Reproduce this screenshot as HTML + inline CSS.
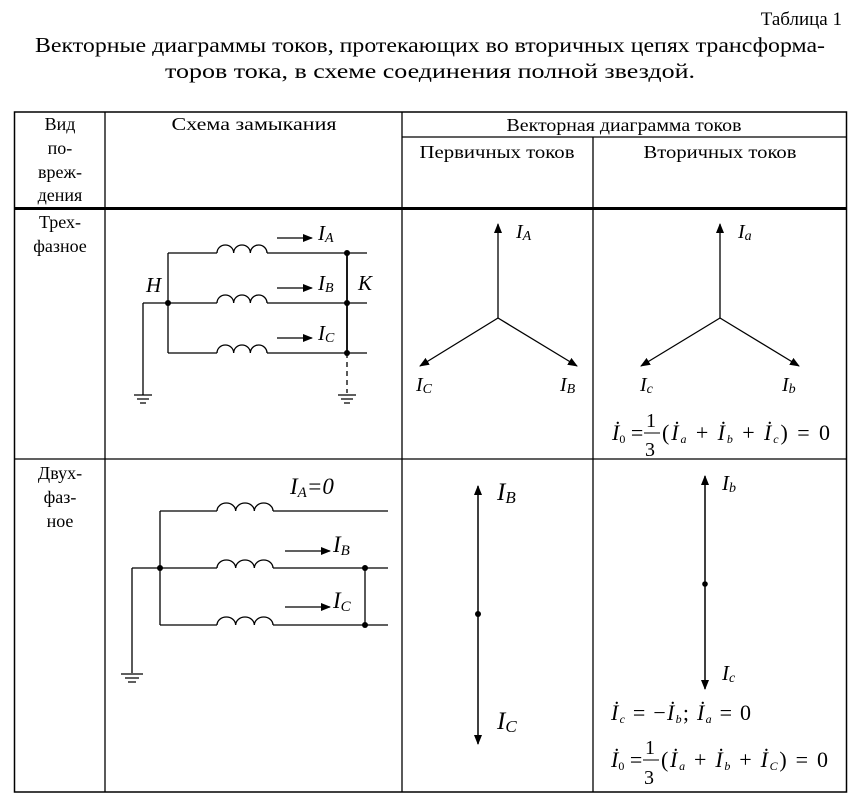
<!DOCTYPE html>
<html><head><meta charset="utf-8"><style>
html,body{margin:0;padding:0;background:#fff}
svg{display:block}
text{font-family:"Liberation Serif",serif;fill:#000}
.i{font-style:italic}
</style></head><body>
<svg width="853" height="796" viewBox="0 0 853 796">
<defs>
<marker id="ar" markerWidth="10" markerHeight="8" refX="9" refY="4" orient="auto" markerUnits="userSpaceOnUse">
<path d="M0,0 L10,4 L0,8 z" fill="#000"/></marker>
</defs>
<text x="842" y="25" font-size="19" text-anchor="end">Таблица 1</text>
<text x="430" y="52" font-size="21" text-anchor="middle" textLength="790" lengthAdjust="spacingAndGlyphs">Векторные диаграммы токов, протекающих во вторичных цепях трансформа-</text>
<text x="430" y="78" font-size="21" text-anchor="middle" textLength="530" lengthAdjust="spacingAndGlyphs">торов тока, в схеме соединения полной звездой.</text>

<g stroke="#000" fill="none">
<rect x="14.5" y="112" width="832" height="680" stroke-width="1.5"/>
<line x1="105" y1="112" x2="105" y2="792" stroke-width="1.3"/>
<line x1="402" y1="112" x2="402" y2="792" stroke-width="1.3"/>
<line x1="593" y1="137" x2="593" y2="792" stroke-width="1.3"/>
<line x1="402" y1="137" x2="846" y2="137" stroke-width="1.3"/>
<line x1="14" y1="208.5" x2="846" y2="208.5" stroke-width="3"/>
<line x1="14" y1="459" x2="846" y2="459" stroke-width="1.3"/>
</g>
<g font-size="18" text-anchor="middle">
<text x="60" y="130">Вид</text>
<text x="60" y="154">по-</text>
<text x="60" y="178">вреж-</text>
<text x="60" y="201">дения</text>
<text x="254" y="130" textLength="165" lengthAdjust="spacingAndGlyphs">Схема замыкания</text>
<text x="624" y="131" textLength="235" lengthAdjust="spacingAndGlyphs">Векторная диаграмма токов</text>
<text x="497" y="158" textLength="155" lengthAdjust="spacingAndGlyphs">Первичных токов</text>
<text x="720" y="158" textLength="153" lengthAdjust="spacingAndGlyphs">Вторичных токов</text>
<text x="60" y="228">Трех-</text>
<text x="60" y="252">фазное</text>
<text x="60" y="479">Двух-</text>
<text x="60" y="503">фаз-</text>
<text x="60" y="527">ное</text>
</g>

<g stroke="#000" stroke-width="1.3" fill="none">
<path d="M168,253 H217 M267,253 H367"/>
<path d="M168,303 H217 M267,303 H367"/>
<path d="M168,353 H217 M267,353 H367"/>
<path d="M217,253 a8.33,8 0 0 1 16.67,0 a8.33,8 0 0 1 16.67,0 a8.33,8 0 0 1 16.67,0"/>
<path d="M217,303 a8.33,8 0 0 1 16.67,0 a8.33,8 0 0 1 16.67,0 a8.33,8 0 0 1 16.67,0"/>
<path d="M217,353 a8.33,8 0 0 1 16.67,0 a8.33,8 0 0 1 16.67,0 a8.33,8 0 0 1 16.67,0"/>
<path d="M168,253 V353"/>
<path d="M347,253 V353" stroke-width="1.8"/>
<path d="M347,353 V393" stroke-dasharray="5,4"/>
<path d="M143,303 H168 M143,303 V395"/>
<path d="M134,395 H152 M137,399 H149 M140,403 H146"/>
<path d="M338,395 H356 M341,399 H353 M344,403 H350"/>
<path d="M277,238 H312" marker-end="url(#ar)"/>
<path d="M277,288 H312" marker-end="url(#ar)"/>
<path d="M277,338 H312" marker-end="url(#ar)"/>
</g>
<g fill="#000"><circle cx="168" cy="303" r="3"/><circle cx="347" cy="253" r="3"/><circle cx="347" cy="303" r="3"/><circle cx="347" cy="353" r="3"/></g>
<g font-size="21">
<text x="318" y="240" class="i">I<tspan font-size="14" dy="2">A</tspan></text>
<text x="318" y="290" class="i">I<tspan font-size="14" dy="2">B</tspan></text>
<text x="318" y="340" class="i">I<tspan font-size="14" dy="2">C</tspan></text>
<text x="146" y="292" class="i">H</text>
<text x="358" y="290" class="i">K</text>
</g>

<g stroke="#000" stroke-width="1.3">
<line x1="498" y1="318" x2="498" y2="224" marker-end="url(#ar)"/>
<line x1="498" y1="318" x2="420" y2="366" marker-end="url(#ar)"/>
<line x1="498" y1="318" x2="577" y2="366" marker-end="url(#ar)"/>
<line x1="720" y1="318" x2="720" y2="224" marker-end="url(#ar)"/>
<line x1="720" y1="318" x2="641" y2="366" marker-end="url(#ar)"/>
<line x1="720" y1="318" x2="799" y2="366" marker-end="url(#ar)"/>
</g>
<g font-size="20">
<text x="516" y="238" class="i">I<tspan font-size="14" dy="2">A</tspan></text>
<text x="416" y="391" class="i">I<tspan font-size="14" dy="2">C</tspan></text>
<text x="560" y="391" class="i">I<tspan font-size="14" dy="2">B</tspan></text>
<text x="738" y="238" class="i">I<tspan font-size="14" dy="2">a</tspan></text>
<text x="640" y="391" class="i">I<tspan font-size="14" dy="2">c</tspan></text>
<text x="782" y="391" class="i">I<tspan font-size="14" dy="2">b</tspan></text>
</g>
<g font-size="22">
<text x="612" y="440"><tspan class="i">İ</tspan><tspan font-size="12" dy="3">0</tspan><tspan dy="-3"> =</tspan></text>
<text x="646" y="427" font-size="20">1</text>
<line x1="644" y1="433" x2="660" y2="433" stroke="#000" stroke-width="1"/>
<text x="645" y="456" font-size="20">3</text>
<text x="662" y="440" textLength="168" lengthAdjust="spacing">(<tspan class="i">İ</tspan><tspan font-size="12" dy="3" class="i">a</tspan><tspan dy="-3"> + </tspan><tspan class="i">İ</tspan><tspan font-size="12" dy="3" class="i">b</tspan><tspan dy="-3"> + </tspan><tspan class="i">İ</tspan><tspan font-size="12" dy="3" class="i">c</tspan><tspan dy="-3">) = 0</tspan></text>
</g>

<g stroke="#000" stroke-width="1.3" fill="none">
<path d="M160,511 H217 M273,511 H388"/>
<path d="M132,568 H217 M273,568 H388"/>
<path d="M160,625 H217 M273,625 H388"/>
<path d="M217,511 a9.33,8 0 0 1 18.67,0 a9.33,8 0 0 1 18.67,0 a9.33,8 0 0 1 18.67,0"/>
<path d="M217,568 a9.33,8 0 0 1 18.67,0 a9.33,8 0 0 1 18.67,0 a9.33,8 0 0 1 18.67,0"/>
<path d="M217,625 a9.33,8 0 0 1 18.67,0 a9.33,8 0 0 1 18.67,0 a9.33,8 0 0 1 18.67,0"/>
<path d="M160,511 V625"/>
<path d="M365,568 V625"/>
<path d="M132,568 V673"/>
<path d="M121,674 H143 M125,678 H139 M128,682 H136"/>
<path d="M285,551 H330" marker-end="url(#ar)"/>
<path d="M285,607 H330" marker-end="url(#ar)"/>
</g>
<g fill="#000"><circle cx="160" cy="568" r="3"/><circle cx="365" cy="568" r="3"/><circle cx="365" cy="625" r="3"/></g>
<g font-size="23">
<text x="290" y="494" class="i">I<tspan font-size="15" dy="3">A</tspan><tspan dy="-3">=0</tspan></text>
<text x="333" y="552" class="i">I<tspan font-size="15" dy="3">B</tspan></text>
<text x="333" y="608" class="i">I<tspan font-size="15" dy="3">C</tspan></text>
</g>

<g stroke="#000" stroke-width="1.5">
<line x1="478" y1="614" x2="478" y2="486" marker-end="url(#ar)"/>
<line x1="478" y1="614" x2="478" y2="744" marker-end="url(#ar)"/>
<line x1="705" y1="584" x2="705" y2="476" marker-end="url(#ar)"/>
<line x1="705" y1="584" x2="705" y2="689" marker-end="url(#ar)"/>
</g>
<g fill="#000"><circle cx="478" cy="614" r="3"/><circle cx="705" cy="584" r="2.8"/></g>
<text x="497" y="500" font-size="25" class="i">I<tspan font-size="17" dy="3">B</tspan></text>
<text x="497" y="729" font-size="25" class="i">I<tspan font-size="17" dy="3">C</tspan></text>
<text x="722" y="490" font-size="21" class="i">I<tspan font-size="14" dy="2">b</tspan></text>
<text x="722" y="680" font-size="21" class="i">I<tspan font-size="14" dy="2">c</tspan></text>
<g font-size="22">
<text x="611" y="720" textLength="140" lengthAdjust="spacing"><tspan class="i">İ</tspan><tspan font-size="12" dy="3" class="i">c</tspan><tspan dy="-3"> = −</tspan><tspan class="i">İ</tspan><tspan font-size="12" dy="3" class="i">b</tspan><tspan dy="-3">; </tspan><tspan class="i">İ</tspan><tspan font-size="12" dy="3" class="i">a</tspan><tspan dy="-3"> = 0</tspan></text>
<text x="611" y="767"><tspan class="i">İ</tspan><tspan font-size="12" dy="3">0</tspan><tspan dy="-3"> =</tspan></text>
<text x="645" y="754" font-size="20">1</text>
<line x1="643" y1="760" x2="659" y2="760" stroke="#000" stroke-width="1"/>
<text x="644" y="784" font-size="20">3</text>
<text x="661" y="767" textLength="167" lengthAdjust="spacing">(<tspan class="i">İ</tspan><tspan font-size="12" dy="3" class="i">a</tspan><tspan dy="-3"> + </tspan><tspan class="i">İ</tspan><tspan font-size="12" dy="3" class="i">b</tspan><tspan dy="-3"> + </tspan><tspan class="i">İ</tspan><tspan font-size="12" dy="3" class="i">C</tspan><tspan dy="-3">) = 0</tspan></text>
</g>
</svg>
</body></html>
